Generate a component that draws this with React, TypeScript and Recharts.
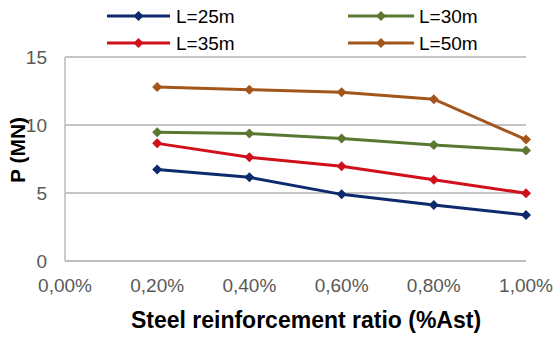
import React from 'react';
import { LineChart, Line, XAxis, YAxis, CartesianGrid, Legend } from 'recharts';

const ratios = [0.2, 0.4, 0.6, 0.8, 1.0];
const xTicks = [0, 0.2, 0.4, 0.6, 0.8, 1.0];
const yTicks = [0, 5, 10, 15];
const seriesNames = ['L=25m', 'L=30m', 'L=35m', 'L=50m'];
const L25 = [6.72, 6.15, 4.9, 4.12, 3.38];
const L30 = [9.46, 9.37, 9.0, 8.53, 8.12];
const L35 = [8.65, 7.63, 6.96, 5.98, 4.98];
const L50 = [12.8, 12.6, 12.4, 11.9, 8.93];

const colors = ['#0c2a6c', '#5a7832', '#d0101a', '#a3561c'];
const keys = ['L25', 'L30', 'L35', 'L50'];

const data = ratios.map((r, i) => ({
  x: r,
  L25: L25[i],
  L30: L30[i],
  L35: L35[i],
  L50: L50[i],
}));

const FONT = '"Liberation Sans", Arial, sans-serif';

const diamond = (cx: number, cy: number, r: number) =>
  `M${cx},${cy - r}L${cx + r},${cy}L${cx},${cy + r}L${cx - r},${cy}Z`;

const makeDot = (color: string) => (props: any) => {
  const { cx, cy, index } = props;
  if (cx == null || cy == null) return <g key={index} />;
  return <path key={index} d={diamond(cx, cy, 5)} fill={color} stroke="none" />;
};

const fmt = (v: number) => v.toFixed(2).replace('.', ',') + '%';

const legendPos = [
  { x1: 107, x2: 170, y: 16, tx: 176 },
  { x1: 348, x2: 414, y: 16, tx: 419 },
  { x1: 107, x2: 170, y: 43, tx: 176 },
  { x1: 348, x2: 414, y: 43, tx: 419 },
];

const LegendContent = () => (
  <svg width={557} height={60} style={{ display: 'block' }}>
    {seriesNames.map((name, i) => {
      const p = legendPos[i];
      const mx = (p.x1 + p.x2) / 2;
      return (
        <g key={name}>
          <line x1={p.x1} x2={p.x2} y1={p.y} y2={p.y} stroke={colors[i]} strokeWidth={3} />
          <path d={diamond(mx, p.y, 5)} fill={colors[i]} />
          <text x={p.tx} y={p.y} dominantBaseline="central" fontSize={19} fontFamily={FONT} fill="#000">
            {name}
          </text>
        </g>
      );
    })}
  </svg>
);

const YTitle = (props: any) => {
  const vb = props.viewBox || { x: 0, y: 57, width: 65, height: 204 };
  const cy = vb.y + vb.height / 2 - 9;
  return (
    <text
      x={25}
      y={cy}
      transform={`rotate(-90, 25, ${cy})`}
      textAnchor="middle"
      fontSize={21}
      fontWeight="bold"
      fontFamily={FONT}
      fill="#000"
    >
      P (MN)
    </text>
  );
};

const XTitle = (props: any) => {
  const vb = props.viewBox || { x: 65, y: 261, width: 461, height: 77 };
  const cx = vb.x + vb.width / 2 + 10.5;
  return (
    <text x={cx} y={328} textAnchor="middle" fontSize={23} fontWeight="bold" fontFamily={FONT} fill="#000">
      Steel reinforcement ratio (%Ast)
    </text>
  );
};

export default function App() {
  return (
    <div style={{ position: 'absolute', left: 0, top: 0, width: 557, height: 338, background: '#fff' }}>
      <LineChart
        width={557}
        height={338}
        data={data}
        margin={{ top: 57, right: 31, bottom: 0, left: 0 }}
      >
        <CartesianGrid vertical={false} stroke="#8a8a8a" strokeWidth={1} />
        <XAxis
          dataKey="x"
          type="number"
          domain={[0, 1]}
          ticks={xTicks}
          tickFormatter={fmt}
          height={77}
          tickSize={0}
          tickMargin={18}
          axisLine={{ stroke: '#bdbdbd', strokeWidth: 1.5 }}
          tickLine={false}
          tick={{ fill: '#595959', fontSize: 19, fontFamily: FONT }}
          label={<XTitle />}
        />
        <YAxis
          type="number"
          domain={[0, 15]}
          ticks={yTicks}
          width={65}
          tickSize={0}
          tickMargin={18}
          axisLine={{ stroke: '#bdbdbd', strokeWidth: 1.5 }}
          tickLine={false}
          tick={{ fill: '#595959', fontSize: 19, fontFamily: FONT }}
          label={<YTitle />}
        />
        <Legend
          layout="horizontal"
          verticalAlign="middle"
          align="center"
          wrapperStyle={{ position: 'absolute', top: 0, left: 0, width: 557, height: 60 }}
          content={<LegendContent />}
        />
        {keys.map((k, i) => (
          <Line
            key={k}
            dataKey={k}
            name={seriesNames[i]}
            stroke={colors[i]}
            strokeWidth={3}
            dot={makeDot(colors[i])}
            activeDot={false}
            isAnimationActive={false}
          />
        ))}
      </LineChart>
    </div>
  );
}
